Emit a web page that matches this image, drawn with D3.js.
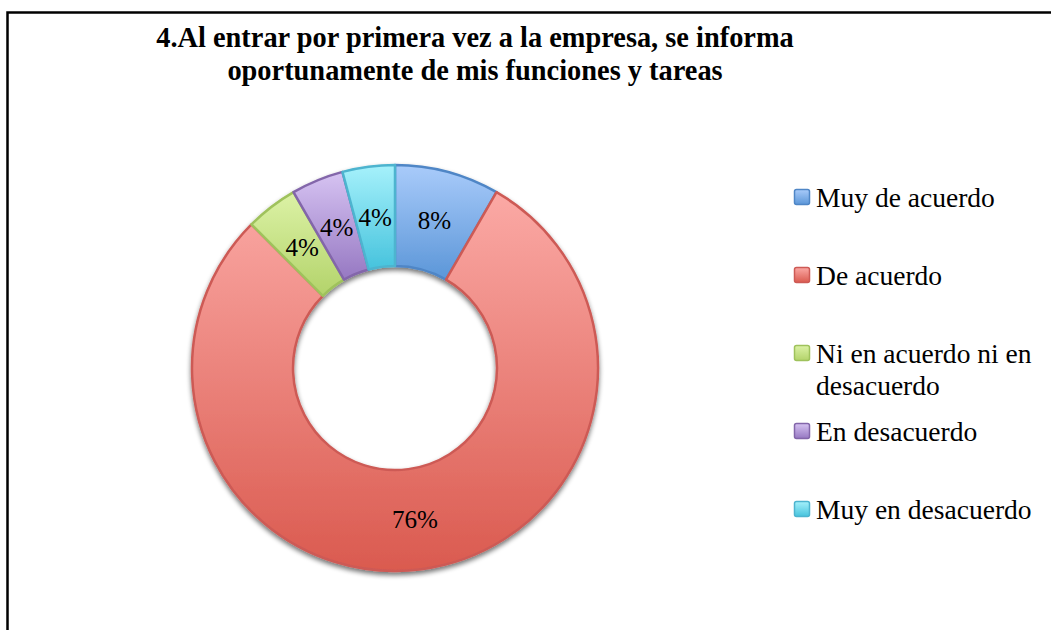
<!DOCTYPE html>
<html>
<head>
<meta charset="utf-8">
<script src="https://cdn.jsdelivr.net/npm/d3@7"></script>
<style>
  body { margin: 0; background: #fff; }
  svg { display: block; }
  text { font-family: "Liberation Serif", serif; fill: #000; }
</style>
</head>
<body>
<div id="chart"></div>
<script>
// chart data
var titleLines = ['4.Al entrar por primera vez a la empresa, se informa',
                  'oportunamente de mis funciones y tareas'];
var categories = ['Muy de acuerdo', 'De acuerdo', 'Ni en acuerdo ni en desacuerdo',
                  'En desacuerdo', 'Muy en desacuerdo'];
var values = [8, 76, 4, 4, 4];
var topColors = ['#a9cbfa', '#fba9a5', '#dcf2a6', '#d6c3f2', '#a6f1fb'];
var bottomColors = ['#5b96d8', '#da5a4f', '#b3d36a', '#9678c2', '#46c3dd'];
var strokeColors = ['#4f86c6', '#cd5a55', '#9fc25c', '#8366aa', '#4db4cf'];

var W = 1051, H = 630;
var cx = 395, cy = 368, rOut = 203, rIn = 102;

var svg = d3.select('#chart').append('svg')
    .attr('width', W).attr('height', H);

var defs = svg.append('defs');

// one vertical gradient per category
categories.forEach(function(c, i) {
  var g = defs.append('linearGradient').attr('id', 'grad' + i)
      .attr('x1', 0).attr('y1', 0).attr('x2', 0).attr('y2', 1);
  g.append('stop').attr('offset', '0%').attr('stop-color', topColors[i]);
  g.append('stop').attr('offset', '100%').attr('stop-color', bottomColors[i]);
});

var shadow = defs.append('filter').attr('id', 'shadow')
    .attr('x', '-10%').attr('y', '-10%').attr('width', '120%').attr('height', '125%');
shadow.append('feGaussianBlur').attr('in', 'SourceAlpha').attr('stdDeviation', 2.5);
shadow.append('feOffset').attr('dx', 0).attr('dy', 3).attr('result', 'off');
shadow.append('feComponentTransfer').append('feFuncA').attr('type', 'linear').attr('slope', 0.55);
var merge = shadow.append('feMerge');
merge.append('feMergeNode');
merge.append('feMergeNode').attr('in', 'SourceGraphic');

// frame (right and bottom edges fall outside the picture)
svg.append('rect')
    .attr('x', 7.5).attr('y', 12.5)
    .attr('width', 1100).attr('height', 700)
    .attr('fill', 'none').attr('stroke', '#000').attr('stroke-width', 2.5);

// font size that makes a text element as wide as target
var fitWidth = function(sel, target) {
  var w = sel.node().getComputedTextLength();
  var fs = parseFloat(sel.attr('font-size'));
  return fs * target / w;
};

// title
var title = svg.append('g');
var t1 = title.append('text').attr('x', 475).attr('y', 47)
    .attr('text-anchor', 'middle').attr('font-weight', 'bold')
    .attr('font-size', 20).text(titleLines[0]);
var titleSize = fitWidth(t1, 638);
t1.attr('font-size', titleSize);
title.append('text').attr('x', 475).attr('y', 80)
    .attr('text-anchor', 'middle').attr('font-weight', 'bold')
    .attr('font-size', titleSize).text(titleLines[1]);

// donut
var pie = d3.pie().sort(null).value(function(d) { return d; });
var arc = d3.arc().innerRadius(rIn).outerRadius(rOut);
var arcs = pie(values);

var donut = svg.append('g').attr('transform', 'translate(' + cx + ',' + cy + ')');
donut.append('g').attr('filter', 'url(#shadow)')
  .selectAll('path').data(arcs).enter().append('path')
    .attr('d', arc)
    .attr('fill', function(d, i) { return 'url(#grad' + i + ')'; })
    .attr('stroke', function(d, i) { return strokeColors[i]; })
    .attr('stroke-width', 2.5)
    .attr('stroke-linejoin', 'round');

var probe = svg.append('text').attr('font-size', 20).text('76%');
var labelSize = fitWidth(probe, 46);
probe.remove();

donut.selectAll('text.pct').data(arcs).enter().append('text')
    .attr('class', 'pct')
    .attr('transform', function(d) { return 'translate(' + arc.centroid(d) + ')'; })
    .attr('text-anchor', 'middle').attr('dy', '0.35em')
    .attr('font-size', labelSize)
    .text(function(d) { return d.data + '%'; });

// legend
var probe2 = svg.append('text').attr('font-size', 20).text(categories[0]);
var legendSize = fitWidth(probe2, 179);
probe2.remove();

var ly = d3.scalePoint().domain(categories).range([197, 509]);
var legend = svg.append('g');
var lx = 794, box = 16, textX = 816, wrapW = 232, lineH = 32;

categories.forEach(function(c, i) {
  var y = ly(c);
  legend.append('rect')
      .attr('x', lx + 0.5).attr('y', y - box / 2 + 0.5)
      .attr('width', box - 1).attr('height', box - 1)
      .attr('rx', 2)
      .attr('fill', 'url(#grad' + i + ')')
      .attr('stroke', strokeColors[i]).attr('stroke-width', 1.5);

  var txt = legend.append('text').attr('font-size', legendSize)
      .attr('x', textX).attr('y', y).attr('dy', '0.38em');
  // simple word wrap
  var words = c.split(' '), line = [], ts = txt.append('tspan').attr('x', textX);
  words.forEach(function(w) {
    line.push(w);
    ts.text(line.join(' '));
    if (ts.node().getComputedTextLength() > wrapW && line.length > 1) {
      line.pop();
      ts.text(line.join(' '));
      line = [w];
      ts = txt.append('tspan').attr('x', textX).attr('dy', lineH).text(w);
    }
  });
});
</script>
</body>
</html>
